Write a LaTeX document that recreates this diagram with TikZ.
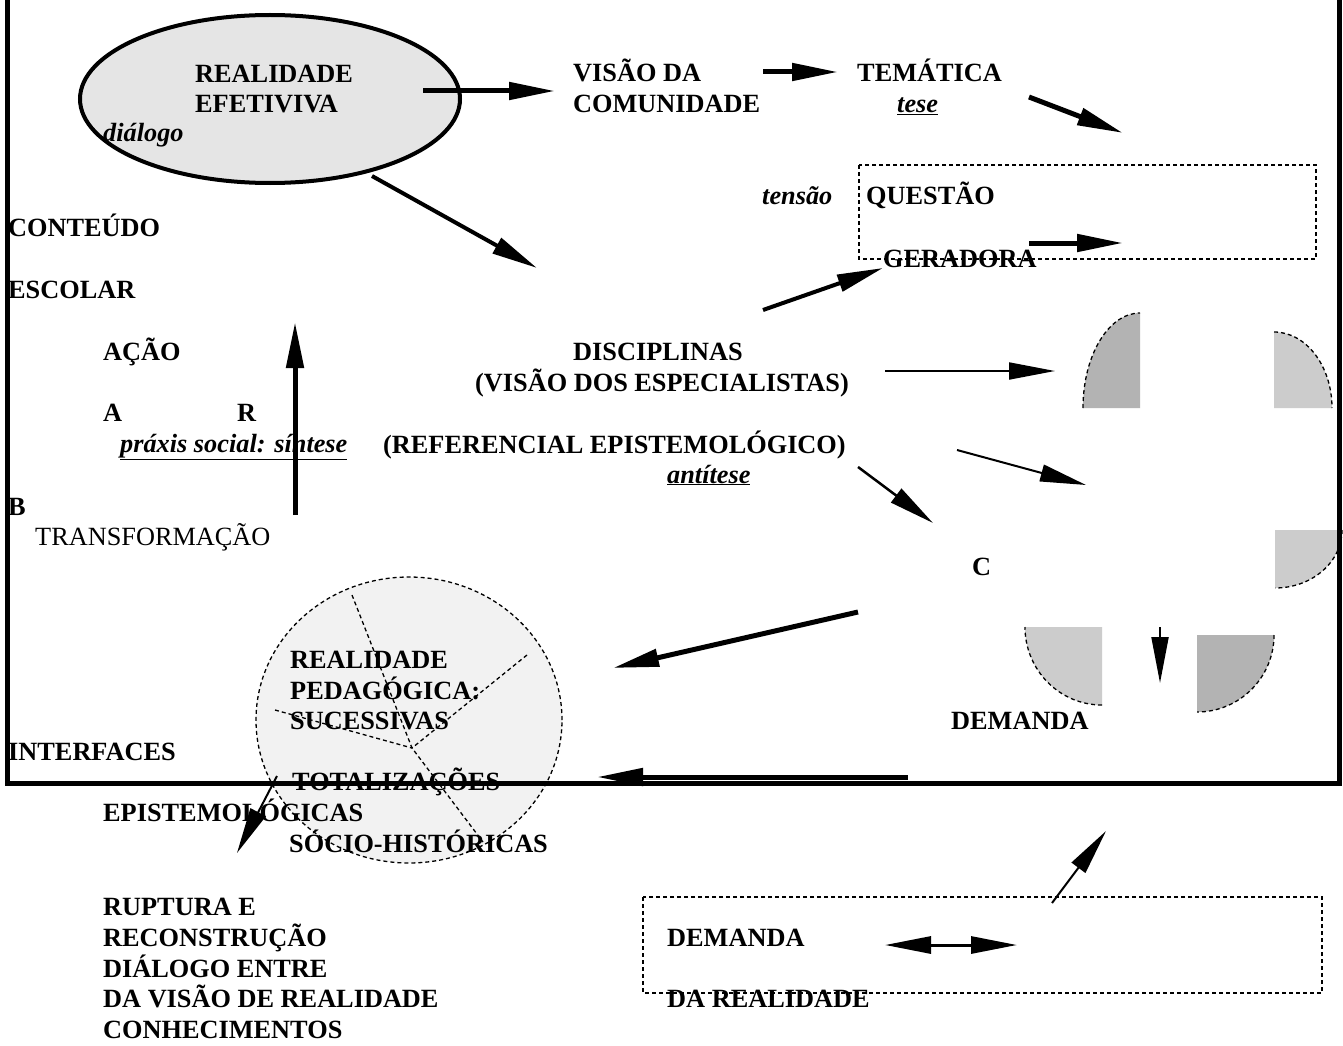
\documentclass[tikz,border=0pt]{standalone}
\usepackage{fontspec}
\setmainfont{Liberation Serif}
\usetikzlibrary{arrows.meta,shapes.geometric}
\definecolor{ellfill}{HTML}{E5E5E5}
\definecolor{circfill}{HTML}{F2F2F2}
\definecolor{qdark}{HTML}{B3B3B3}
\definecolor{qlight}{HTML}{CCCCCC}
\begin{document}
\begin{tikzpicture}[x=1pt,y=-1pt,
  lbl/.style={anchor=base west,inner sep=0pt,font=\fontsize{26.3}{30}\selectfont\bfseries},
  clbl/.style={lbl,anchor=base},
  ilbl/.style={anchor=base west,inner sep=0pt,font=\fontsize{26.3}{30}\selectfont\bfseries\itshape},
  rlbl/.style={anchor=base west,inner sep=0pt,font=\fontsize{26.3}{30}\selectfont},
  tip/.style={-{Triangle[length=46pt,width=17pt]}},
  thickarr/.style={tip,line width=5pt},
  medarr/.style={tip,line width=4pt},
  thinarr/.style={tip,line width=2pt},
  dsh/.style={line width=1.3pt,dash pattern=on 4pt off 3pt},
]
\useasboundingbox (0,0) rectangle (1343,1046);
\fill[white] (0,0) rectangle (1343,1046);

% big pedagogical circle
\node[ellipse,draw,dsh,fill=circfill,minimum width=306pt,minimum height=286pt,inner sep=0pt] (circ) at (409,720) {};
\coordinate (cc) at (412,748);
\coordinate (c1) at (352,595);
\coordinate (c2) at (483,842);
\coordinate (c3) at (275,710);
\coordinate (c4) at (527,655);
\draw[dsh] (c1) -- (cc) -- (c2);
\draw[dsh] (c3) -- (cc);
\draw[dsh] (c4) -- (cc);

% quarter shapes on the right
\fill[qdark] (1140,408) -- (1083,408) arc[start angle=180,end angle=270,x radius=57,y radius=95] -- cycle;
\draw[dsh] (1083,408) arc[start angle=180,end angle=270,x radius=57,y radius=95];
\fill[qlight] (1274,408) -- (1274,332) arc[start angle=270,end angle=360,x radius=58,y radius=76] -- cycle;
\draw[dsh] (1274,332) arc[start angle=270,end angle=360,x radius=58,y radius=76];
\fill[qlight] (1275,530) -- (1342,530) arc[start angle=0,end angle=90,x radius=67,y radius=58] -- cycle;
\draw[dsh] (1342,530) arc[start angle=0,end angle=90,x radius=67,y radius=58];
\fill[qlight] (1102,627) -- (1102,705) arc[start angle=90,end angle=180,x radius=77,y radius=78] -- cycle;
\draw[dsh] (1102,705) arc[start angle=90,end angle=180,x radius=77,y radius=78];
\fill[qdark] (1197,635) -- (1274,635) arc[start angle=0,end angle=90,x radius=77,y radius=77] -- cycle;
\draw[dsh] (1274,635) arc[start angle=0,end angle=90,x radius=77,y radius=77];

% main frame
\draw[line width=5pt] (7,-20) rectangle (1339,783);

% ellipse
\node[ellipse,draw,line width=4pt,fill=ellfill,minimum width=380pt,minimum height=168pt,inner sep=0pt] (ell) at (270,99) {};

% dashed boxes
\draw[dsh] (859,165) rectangle (1316,259);
\draw[dsh] (643,897) rectangle (1322,993);

% texts
\node[lbl] (t1) at (195,83) {REALIDADE};
\node[lbl] (t2) at (195,113) {EFETIVIVA};
\node[ilbl] (t3) at (103,142) {diálogo};
\node[lbl] (t4) at (573,82) {VISÃO DA};
\node[lbl] (t5) at (573,113) {COMUNIDADE};
\node[lbl] (t6) at (857,82) {TEMÁTICA};
\node[ilbl] (t7) at (897,113) {\underline{tese}};
\node[ilbl] (t8) at (762,204) {tensão};
\node[lbl] (t9) at (866,204) {QUESTÃO};
\node[lbl] (t10) at (883,267) {GERADORA};
\node[lbl] (t11) at (8,236) {CONTEÚDO};
\node[lbl] (t12) at (8,298) {ESCOLAR};
\node[lbl] (t13) at (103,360) {AÇÃO};
\node[lbl] (t14) at (103,421) {A};
\node[lbl] (t15) at (237,421) {R};
\node[ilbl] (t16) at (120,452) {\underline{práxis social: síntese}};
\node[clbl] (t17) at (658,360) {DISCIPLINAS};
\node[clbl] (t18) at (662,391) {(VISÃO DOS ESPECIALISTAS)};
\node[lbl] (t19) at (383,453) {(REFERENCIAL EPISTEMOLÓGICO)};
\node[ilbl] (t20) at (667,483) {\underline{antítese}};
\node[lbl] (t21) at (8,515) {B};
\node[rlbl] (t22) at (35,545) {TRANSFORMAÇÃO};
\node[lbl] (t23) at (972,575) {C};
\node[lbl] (t24) at (951,729) {DEMANDA};
\node[lbl] (t25) at (290,668) {REALIDADE};
\node[lbl] (t26) at (290,699) {PEDAGÓGICA:};
\node[lbl] (t27) at (290,729) {SUCESSIVAS};
\node[lbl] (t28) at (8,760) {INTERFACES};
\node[lbl] (t29) at (292,790) {TOTALIZAÇÕES};
\node[lbl] (t30) at (103,821) {EPISTEMOLÓGICAS};
\node[lbl] (t31) at (289,852) {SÓCIO-HISTÓRICAS};
\node[lbl] (t32) at (103,915) {RUPTURA E};
\node[lbl] (t33) at (103,946) {RECONSTRUÇÃO};
\node[lbl] (t34) at (103,977) {DIÁLOGO ENTRE};
\node[lbl] (t35) at (103,1007) {DA VISÃO DE REALIDADE};
\node[lbl] (t36) at (103,1038) {CONHECIMENTOS};
\node[lbl] (t37) at (667,946) {DEMANDA};
\node[lbl] (t38) at (667,1007) {DA REALIDADE};

% arrow end points
\coordinate (a1s) at (423,91);   \coordinate (a1e) at (555,91);
\coordinate (a2s) at (763,72);   \coordinate (a2e) at (838,72);
\coordinate (a3s) at (1029,97);  \coordinate (a3e) at (1123,133);
\coordinate (a4s) at (1029,243); \coordinate (a4e) at (1123,243);
\coordinate (a5s) at (372,176);  \coordinate (a5e) at (537,268);
\coordinate (a6s) at (763,310);  \coordinate (a6e) at (883,268);
\coordinate (a7s) at (295,515);  \coordinate (a7e) at (295,322);
\coordinate (a8s) at (885,371);  \coordinate (a8e) at (1055,371);
\coordinate (a9s) at (957,450);  \coordinate (a9e) at (1086,485);
\coordinate (a10s) at (858,467); \coordinate (a10e) at (933,523);
\coordinate (a11s) at (1160,627);\coordinate (a11e) at (1160,683);
\coordinate (a12s) at (858,612); \coordinate (a12e) at (613,668);
\coordinate (a13s) at (908,777); \coordinate (a13e) at (597,777);
\coordinate (a14s) at (277,776); \coordinate (a14e) at (237,853);
\coordinate (a15s) at (885,945); \coordinate (a15e) at (1017,945);
\coordinate (a16s) at (1052,903);\coordinate (a16e) at (1106,831);

\draw[thickarr] (a1s) -- (a1e);
\draw[thickarr] (a2s) -- (a2e);
\draw[thickarr] (a3s) -- (a3e);
\draw[thickarr] (a4s) -- (a4e);
\draw[medarr] (a5s) -- (a5e);
\draw[medarr] (a6s) -- (a6e);
\draw[thickarr] (a7s) -- (a7e);
\draw[thinarr] (a8s) -- (a8e);
\draw[thinarr] (a9s) -- (a9e);
\draw[thinarr,line width=2.5pt] (a10s) -- (a10e);
\draw[thinarr] (a11s) -- (a11e);
\draw[thickarr] (a12s) -- (a12e);
\draw[thickarr] (a13s) -- (a13e);
\draw[thinarr] (a14s) -- (a14e);
\draw[line width=3pt,{Triangle[length=46pt,width=17pt]}-{Triangle[length=46pt,width=17pt]}] (a15s) -- (a15e);
\draw[thinarr] (a16s) -- (a16e);
\end{tikzpicture}
\end{document}
